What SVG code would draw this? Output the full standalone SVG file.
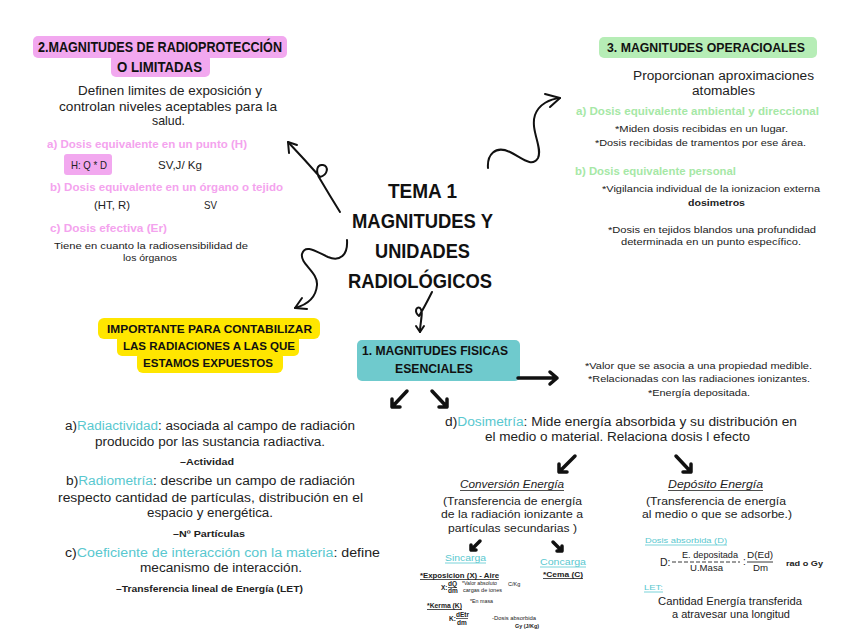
<svg xmlns="http://www.w3.org/2000/svg" width="848" height="636" viewBox="0 0 848 636">
<style>
  .hd{font-family:"Liberation Sans","DejaVu Sans",sans-serif;font-weight:700;fill:#111}
  .tt{font-family:"Liberation Sans","DejaVu Sans",sans-serif;font-weight:700;font-size:21px;fill:#111;text-anchor:start}
  .b{font-family:"Liberation Sans","DejaVu Sans",sans-serif;fill:#222}
  .pk{fill:#f4a3ee}
  .gr{fill:#a6e8a6}
  .tl{fill:#59c8cf}
  .bold{font-weight:700}
  .ln{fill:none;stroke:#111;stroke-width:2;stroke-linecap:round;stroke-linejoin:round}
  .th{fill:none;stroke:#111;stroke-width:3.5;stroke-linecap:round;stroke-linejoin:round}
  .ul{stroke-width:0.8}
</style>
<rect width="848" height="636" fill="#ffffff"/>

<g id="title">
  <text class="tt" x="388" y="198" textLength="69" lengthAdjust="spacingAndGlyphs">TEMA 1</text>
  <text class="tt" x="352" y="228" textLength="141" lengthAdjust="spacingAndGlyphs">MAGNITUDES Y</text>
  <text class="tt" x="375" y="258" textLength="95" lengthAdjust="spacingAndGlyphs">UNIDADES</text>
  <text class="tt" x="348" y="288" textLength="144" lengthAdjust="spacingAndGlyphs">RADIOLÓGICOS</text>
</g>

<g id="radioproteccion">
  <rect x="33" y="36" width="254" height="22" rx="5" fill="#f2a8ef"/>
  <rect x="111" y="54" width="99" height="23" rx="5" fill="#f2a8ef"/>
  <text class="hd" x="38" y="52" font-size="14" textLength="244" lengthAdjust="spacingAndGlyphs">2.MAGNITUDES DE RADIOPROTECCIÓN</text>
  <text class="hd" x="117" y="72" font-size="14" textLength="85" lengthAdjust="spacingAndGlyphs">O LIMITADAS</text>
  <text class="b" x="78" y="95" font-size="13" textLength="184" lengthAdjust="spacingAndGlyphs">Definen limites de exposición y</text>
  <text class="b" x="59" y="111" font-size="13" textLength="218" lengthAdjust="spacingAndGlyphs">controlan niveles aceptables para la</text>
  <text class="b" x="152" y="125" font-size="13" textLength="33" lengthAdjust="spacingAndGlyphs">salud.</text>
  <text class="b pk bold" x="47" y="148" font-size="10.5" textLength="200" lengthAdjust="spacingAndGlyphs">a) Dosis equivalente en un punto  (H)</text>
  <rect x="64" y="154" width="48" height="21" rx="3" fill="#f2a8ef"/>
  <text class="b" x="71" y="169" font-size="11" textLength="36" lengthAdjust="spacingAndGlyphs">H: Q * D</text>
  <text class="b" x="158" y="169" font-size="11" textLength="44" lengthAdjust="spacingAndGlyphs">SV,J/ Kg</text>
  <text class="b pk bold" x="50" y="191" font-size="11" textLength="233" lengthAdjust="spacingAndGlyphs">b) Dosis equivalente en un órgano o tejido</text>
  <text class="b" x="94" y="209" font-size="10.5" textLength="36" lengthAdjust="spacingAndGlyphs">(HT, R)</text>
  <text class="b" x="204" y="209" font-size="10.5" textLength="13" lengthAdjust="spacingAndGlyphs">SV</text>
  <text class="b pk bold" x="50" y="232" font-size="10.5" textLength="117" lengthAdjust="spacingAndGlyphs">c) Dosis efectiva (Er)</text>
  <text class="b" x="54" y="249" font-size="9.5" textLength="194" lengthAdjust="spacingAndGlyphs">Tiene en cuanto la radiosensibilidad de</text>
  <text class="b" x="123" y="261" font-size="9.5" textLength="54" lengthAdjust="spacingAndGlyphs">los órganos</text>
</g>

<g id="operacionales">
  <rect x="599" y="37" width="218" height="21" rx="5" fill="#b6edb6"/>
  <text class="hd" x="607" y="52" font-size="13" textLength="198" lengthAdjust="spacingAndGlyphs">3. MAGNITUDES OPERACIOALES</text>
  <text class="b" x="633" y="80" font-size="12.5" textLength="181" lengthAdjust="spacingAndGlyphs">Proporcionan aproximaciones</text>
  <text class="b" x="692" y="95" font-size="12.5" textLength="63" lengthAdjust="spacingAndGlyphs">atomables</text>
  <text class="b gr bold" x="576" y="115" font-size="10.5" textLength="243" lengthAdjust="spacingAndGlyphs">a) Dosis equivalente ambiental y direccional</text>
  <text class="b" x="615" y="132" font-size="9.5" textLength="173" lengthAdjust="spacingAndGlyphs">*Miden dosis recibidas en un lugar.</text>
  <text class="b" x="595" y="146" font-size="9.5" textLength="211" lengthAdjust="spacingAndGlyphs">*Dosis recibidas de tramentos por ese área.</text>
  <text class="b gr bold" x="575" y="175" font-size="10.5" textLength="161" lengthAdjust="spacingAndGlyphs">b) Dosis equivalente personal</text>
  <text class="b" x="602" y="192" font-size="9.5" textLength="218" lengthAdjust="spacingAndGlyphs">*Vigilancia individual de la ionizacion externa</text>
  <text class="b bold" x="688" y="206" font-size="9.5" textLength="57" lengthAdjust="spacingAndGlyphs">dosimetros</text>
  <text class="b" x="608" y="233" font-size="9.5" textLength="208" lengthAdjust="spacingAndGlyphs">*Dosis en tejidos blandos  una profundidad</text>
  <text class="b" x="621" y="245" font-size="9.5" textLength="180" lengthAdjust="spacingAndGlyphs">determinada en un punto específico.</text>
</g>

<g id="importante">
  <rect x="98" y="318" width="222" height="21" rx="6" fill="#ffe600"/>
  <rect x="117" y="334" width="182" height="22" rx="5" fill="#ffe600"/>
  <rect x="137" y="351" width="146" height="22" rx="6" fill="#ffe600"/>
  <text class="hd" x="107" y="333" font-size="11.5" textLength="205" lengthAdjust="spacingAndGlyphs">IMPORTANTE PARA CONTABILIZAR</text>
  <text class="hd" x="123" y="350" font-size="11.5" textLength="172" lengthAdjust="spacingAndGlyphs">LAS RADIACIONES A LAS QUE</text>
  <text class="hd" x="143" y="367" font-size="11.5" textLength="130" lengthAdjust="spacingAndGlyphs">ESTAMOS EXPUESTOS</text>
</g>

<g id="fisicas">
  <rect x="357" y="340" width="163" height="41" rx="5" fill="#6fcacd"/>
  <text class="hd" x="362" y="355" font-size="13" textLength="146" lengthAdjust="spacingAndGlyphs">1. MAGNITUDES FISICAS</text>
  <text class="hd" x="395" y="373" font-size="13" textLength="78" lengthAdjust="spacingAndGlyphs">ESENCIALES</text>
</g>

<g id="definicion">
  <text class="b" x="585" y="369" font-size="9.5" textLength="227" lengthAdjust="spacingAndGlyphs">*Valor que se asocia a una propiedad medible.</text>
  <text class="b" x="588" y="382" font-size="9.5" textLength="222" lengthAdjust="spacingAndGlyphs">*Relacionadas con las radiaciones ionizantes.</text>
  <text class="b" x="648" y="396" font-size="9.5" textLength="102" lengthAdjust="spacingAndGlyphs">*Energía depositada.</text>
</g>

<g id="tipos">
  <text class="b" x="65" y="430" font-size="12.5" textLength="290" lengthAdjust="spacingAndGlyphs">a)<tspan class="tl">Radiactividad</tspan>: asociada al campo de radiación</text>
  <text class="b" x="95" y="446" font-size="12.5" textLength="230" lengthAdjust="spacingAndGlyphs">producido por las sustancia radiactiva.</text>
  <text class="b bold" x="180" y="465" font-size="9.5" textLength="54" lengthAdjust="spacingAndGlyphs">–Actividad</text>
  <text class="b" x="66" y="485" font-size="12.5" textLength="289" lengthAdjust="spacingAndGlyphs">b)<tspan class="tl">Radiometría</tspan>: describe un campo de radiación</text>
  <text class="b" x="58" y="502" font-size="12.5" textLength="305" lengthAdjust="spacingAndGlyphs">respecto cantidad de partículas, distribución en el</text>
  <text class="b" x="147" y="517" font-size="12.5" textLength="126" lengthAdjust="spacingAndGlyphs">espacio y energética.</text>
  <text class="b bold" x="173" y="537" font-size="9.5" textLength="72" lengthAdjust="spacingAndGlyphs">–Nº Partículas</text>
  <text class="b" x="65" y="557" font-size="12.5" textLength="315" lengthAdjust="spacingAndGlyphs">c)<tspan class="tl">Coeficiente de interacción con la materia</tspan>: define</text>
  <text class="b" x="140" y="572" font-size="12.5" textLength="162" lengthAdjust="spacingAndGlyphs">mecanismo de interacción.</text>
  <text class="b bold" x="116" y="592" font-size="9.5" textLength="187" lengthAdjust="spacingAndGlyphs">–Transferencia lineal de Energía (LET)</text>
</g>

<g id="dosimetria">
  <text class="b" x="445" y="426" font-size="12.5" textLength="352" lengthAdjust="spacingAndGlyphs">d)<tspan class="tl">Dosimetría</tspan>: Mide energía absorbida  y su distribución en</text>
  <text class="b" x="485" y="441" font-size="12.5" textLength="265" lengthAdjust="spacingAndGlyphs">el medio o material. Relaciona  dosis l efecto</text>
</g>

<g id="conversion">
  <text class="b" x="460" y="488" font-size="10.5" font-style="italic" textLength="104" lengthAdjust="spacingAndGlyphs">Conversión Energía</text>
  <line x1="460" y1="490.5" x2="564" y2="490.5" stroke="#222" class="ul"/>
  <text class="b" x="443" y="505" font-size="10.5" textLength="139" lengthAdjust="spacingAndGlyphs">(Transferencia de energía</text>
  <text class="b" x="441" y="518" font-size="10.5" textLength="142" lengthAdjust="spacingAndGlyphs">de la radiación ionizante a</text>
  <text class="b" x="448" y="532" font-size="10.5" textLength="129" lengthAdjust="spacingAndGlyphs">partículas secundarias )</text>
</g>

<g id="deposito">
  <text class="b" x="668" y="488" font-size="10.5" font-style="italic" textLength="95" lengthAdjust="spacingAndGlyphs">Depósito  Energía</text>
  <line x1="668" y1="490.5" x2="763" y2="490.5" stroke="#222" class="ul"/>
  <text class="b" x="646" y="505" font-size="10.5" textLength="140" lengthAdjust="spacingAndGlyphs">(Transferencia de energía</text>
  <text class="b" x="642" y="518" font-size="10.5" textLength="150" lengthAdjust="spacingAndGlyphs">al medio o que se adsorbe.)</text>
</g>

<g id="sincarga">
  <text class="b tl" x="445" y="561" font-size="9" textLength="41" lengthAdjust="spacingAndGlyphs">Sincarga</text>
  <line x1="445" y1="563" x2="486" y2="563" stroke="#59c8cf" class="ul"/>
  <text class="b bold" x="420" y="578" font-size="7" textLength="79" lengthAdjust="spacingAndGlyphs">*Exposicion (X) - Aire</text>
  <line x1="420" y1="579.5" x2="499" y2="579.5" stroke="#222" class="ul"/>
  <text class="b bold" x="441" y="590" font-size="6.5">X:</text>
  <text class="b bold" x="448" y="586" font-size="6.5">dQ</text>
  <line x1="448" y1="587.5" x2="457" y2="587.5" stroke="#222" stroke-width="0.7"/>
  <text class="b bold" x="448" y="593" font-size="6.5">dm</text>
  <text class="b" x="462" y="585" font-size="5.5" textLength="35" lengthAdjust="spacingAndGlyphs">*Valor absoluto</text>
  <text class="b" x="508" y="586" font-size="5.5">C/Kg</text>
  <text class="b" x="463" y="592" font-size="5.5" textLength="39" lengthAdjust="spacingAndGlyphs">cargas de iones</text>
  <text class="b" x="470" y="603" font-size="5.5" textLength="23" lengthAdjust="spacingAndGlyphs">*En masa</text>
  <text class="b bold" x="427" y="608" font-size="7" textLength="35" lengthAdjust="spacingAndGlyphs">*Kerma (K)</text>
  <line x1="427" y1="609.5" x2="462" y2="609.5" stroke="#222" class="ul"/>
  <text class="b bold" x="449" y="621" font-size="6.5">K:</text>
  <text class="b bold" x="456" y="617" font-size="6.5">dEtr</text>
  <line x1="456" y1="618.5" x2="468" y2="618.5" stroke="#222" stroke-width="0.7"/>
  <text class="b bold" x="457" y="625" font-size="6.5">dm</text>
  <text class="b" x="492" y="620" font-size="5.5" textLength="44" lengthAdjust="spacingAndGlyphs">-Dosis absorbida</text>
  <text class="b bold" x="515" y="628" font-size="6" textLength="24" lengthAdjust="spacingAndGlyphs">Gy (J/Kg)</text>
</g>

<g id="concarga">
  <text class="b tl" x="540" y="565" font-size="9" textLength="46" lengthAdjust="spacingAndGlyphs">Concarga</text>
  <line x1="540" y1="567" x2="586" y2="567" stroke="#59c8cf" class="ul"/>
  <text class="b bold" x="543" y="577" font-size="7" textLength="40" lengthAdjust="spacingAndGlyphs">*Cema (C)</text>
  <line x1="543" y1="578.5" x2="583" y2="578.5" stroke="#222" class="ul"/>
</g>

<g id="absorbida">
  <text class="b tl" x="645" y="543" font-size="8" textLength="82" lengthAdjust="spacingAndGlyphs">Dosis absorbida (D)</text>
  <line x1="645" y1="545" x2="727" y2="545" stroke="#59c8cf" class="ul"/>
  <text class="b" x="660" y="566" font-size="10.5">D:</text>
  <line x1="672" y1="562" x2="740" y2="562" stroke="#222" stroke-width="0.9" stroke-dasharray="4 2"/>
  <text class="b" x="682" y="558" font-size="9.5" textLength="56" lengthAdjust="spacingAndGlyphs">E. depositada</text>
  <text class="b" x="690" y="571" font-size="9.5" textLength="33" lengthAdjust="spacingAndGlyphs">U.Masa</text>
  <text class="b" x="743" y="565" font-size="10">:</text>
  <line x1="747" y1="562" x2="773" y2="562" stroke="#222" stroke-width="0.9"/>
  <text class="b" x="747" y="558" font-size="9.5" textLength="26" lengthAdjust="spacingAndGlyphs">D(Ed)</text>
  <text class="b" x="753" y="571" font-size="9.5" textLength="15" lengthAdjust="spacingAndGlyphs">Dm</text>
  <text class="b bold" x="786" y="566" font-size="7.5" textLength="37" lengthAdjust="spacingAndGlyphs">rad o Gy</text>
  <text class="b tl" x="644" y="590" font-size="7.5" textLength="19" lengthAdjust="spacingAndGlyphs">LET:</text>
  <line x1="644" y1="592" x2="663" y2="592" stroke="#59c8cf" class="ul"/>
  <text class="b" x="658" y="605" font-size="10.5" textLength="144" lengthAdjust="spacingAndGlyphs">Cantidad Energía transferida</text>
  <text class="b" x="672" y="618" font-size="10.5" textLength="118" lengthAdjust="spacingAndGlyphs">a atravesar una longitud</text>
</g>

<g id="connectors">
  <!-- title to radioproteccion -->
  <path class="ln" d="M340,212 Q330,196 320,179 C315,171 317,164 323,165 C329,166 328,175 320,177 Q305,160 288,142"/>
  <path class="ln" d="M297,145 L288,142 L289,153"/>
  <!-- title to importante -->
  <path class="ln" d="M347,240 C348,255 340,262 328,257 C315,251 305,244 302,254 C300,264 318,272 317,285 C316,298 306,305 295,308"/>
  <path class="ln" d="M302,298 L295,308 L307,309"/>
  <!-- title to operacionales -->
  <path class="ln" d="M488,168 C487,155 495,145 510,152 C522,158 532,168 538,158 C543,148 530,130 535,115 C539,104 550,99 560,98"/>
  <path class="ln" d="M545,94 L560,98 L550,107"/>
  <!-- title to fisicas -->
  <path class="ln" stroke-width="1.5" d="M432,292 C428,300 424,308 419,316 C414,312 416,306 420,308 C424,311 420,322 420,332"/>
  <path class="ln" stroke-width="1.5" d="M416,326 L420,332 L424,326"/>
  <!-- fisicas to definicion -->
  <path class="th" d="M518,378 L557,378 M550,372 L557,378 L550,384"/>
  <!-- fisicas down -->
  <path class="th" d="M407,391 L392,407 M392,399 L392,407 L400,407"/>
  <path class="th" d="M432,391 L447,407 M447,399 L447,407 L439,407"/>
  <!-- dosimetria down -->
  <path class="th" d="M575,456 L559,472 M559,464 L559,472 L567,472"/>
  <path class="th" d="M676,456 L691,472 M691,464 L691,472 L683,472"/>
  <!-- small arrows -->
  <path class="th" d="M480,541 L471,550 M471,545 L471,550 L476,550" stroke-width="3"/>
  <path class="th" d="M553,542 L562,551 M562,546 L562,551 L557,551" stroke-width="3"/>
</g>
</svg>
